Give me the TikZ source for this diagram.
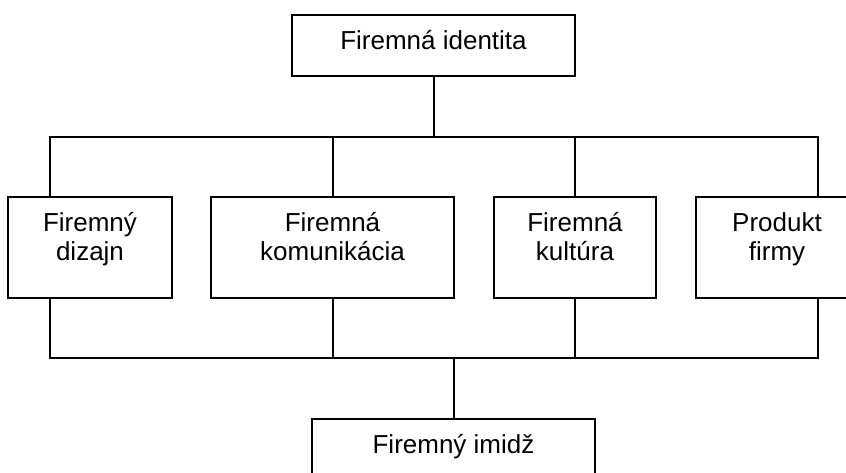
\documentclass[tikz,border=0pt]{standalone}
\usepackage{fontspec}
\setmainfont{Liberation Sans}
\begin{document}
\begin{tikzpicture}[x=1pt,y=-1pt,
  box/.style={draw, line width=2pt, rectangle, inner sep=0pt, outer sep=0pt},
  lbl/.style={font=\fontsize{26}{29}\selectfont, align=center, inner sep=0pt, anchor=base},
  wire/.style={line width=2pt}]
\useasboundingbox (0,0) rectangle (846,473);
% boxes
\node[box, minimum width=283pt, minimum height=61pt] (top) at (433.5,45.5) {};
\node[box, minimum width=164pt, minimum height=101pt] (b1) at (90,247.5) {};
\node[box, minimum width=243pt, minimum height=101pt] (b2) at (332.5,247.5) {};
\node[box, minimum width=162pt, minimum height=101pt] (b3) at (575,247.5) {};
\node[box, minimum width=162pt, minimum height=101pt] (b4) at (777,247.5) {};
\node[box, minimum width=283pt, minimum height=61pt] (bot) at (453.5,449.5) {};
% texts
\node[lbl] (ttop) at (433.5,50) {Firemná identita};
\node[lbl] (t1) at (90,261) {Firemný\\dizajn};
\node[lbl] (t2) at (332.5,261) {Firemná\\komunikácia};
\node[lbl] (t3) at (575,261) {Firemná\\kultúra};
\node[lbl] (t4) at (777,261) {Produkt\\firmy};
\node[lbl] (tbot) at (453.5,453) {Firemný imidž};
% buses
\coordinate (upL) at (50,137);
\coordinate (upR) at (818,137);
\coordinate (loL) at (50,358);
\coordinate (loR) at (818,358);
% upper connectors
\draw[wire] (top.south) -- (top.south |- upL);
\draw[wire] (upL |- b1.north) -- (upL) -- (upR) -- (upR |- b4.north);
\draw[wire] (b2.north) -- (b2.north |- upL);
\draw[wire] (b3.north) -- (b3.north |- upL);
% lower connectors
\draw[wire] (loL |- b1.south) -- (loL) -- (loR) -- (loR |- b4.south);
\draw[wire] (b2.south) -- (b2.south |- loL);
\draw[wire] (b3.south) -- (b3.south |- loL);
\draw[wire] (bot.north) -- (bot.north |- loL);
\end{tikzpicture}
\end{document}
